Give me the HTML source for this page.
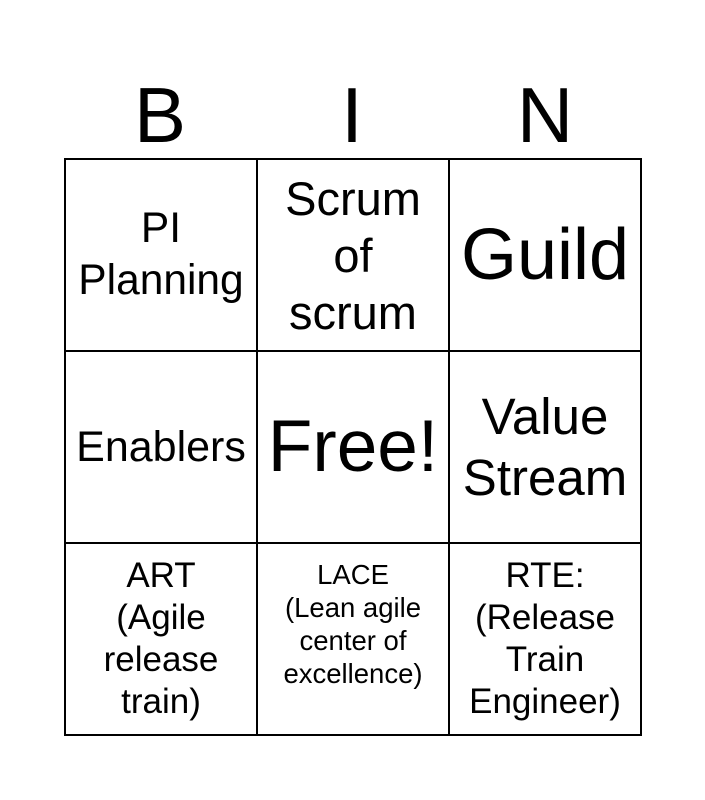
<!DOCTYPE html>
<html><head><style>
body{margin:0;width:705px;height:800px;background:#fff;font-family:"Liberation Sans",Arial,sans-serif;position:relative;overflow:hidden}
.h{position:absolute;top:70px;font-size:78px;line-height:90px;width:192px;text-align:center}
table{position:absolute;left:64px;top:158px;border-collapse:collapse}
td{width:190px;height:190px;border:2px solid #000;text-align:center;vertical-align:middle;padding:0;color:#000}
</style></head><body>
<div class="h" style="left:64px">B</div>
<div class="h" style="left:256px">I</div>
<div class="h" style="left:449px">N</div>
<table>
<tr>
<td style="font-size:42.5px;line-height:52px">PI<br>Planning</td>
<td style="font-size:47px;line-height:57px">Scrum<br>of<br>scrum</td>
<td style="font-size:72px;line-height:80px">Guild</td>
</tr>
<tr>
<td style="font-size:43px;line-height:50px">Enablers</td>
<td style="font-size:73px;line-height:80px">Free!</td>
<td style="font-size:51px;line-height:61px">Value<br>Stream</td>
</tr>
<tr>
<td style="font-size:35px;line-height:42px">ART<br>(Agile<br>release<br>train)</td>
<td style="font-size:27.5px;line-height:33px;padding-bottom:30px;height:160px">LACE<br>(Lean agile<br>center of<br>excellence)</td>
<td style="font-size:35px;line-height:42px">RTE:<br>(Release<br>Train<br>Engineer)</td>
</tr>
</table>
</body></html>
